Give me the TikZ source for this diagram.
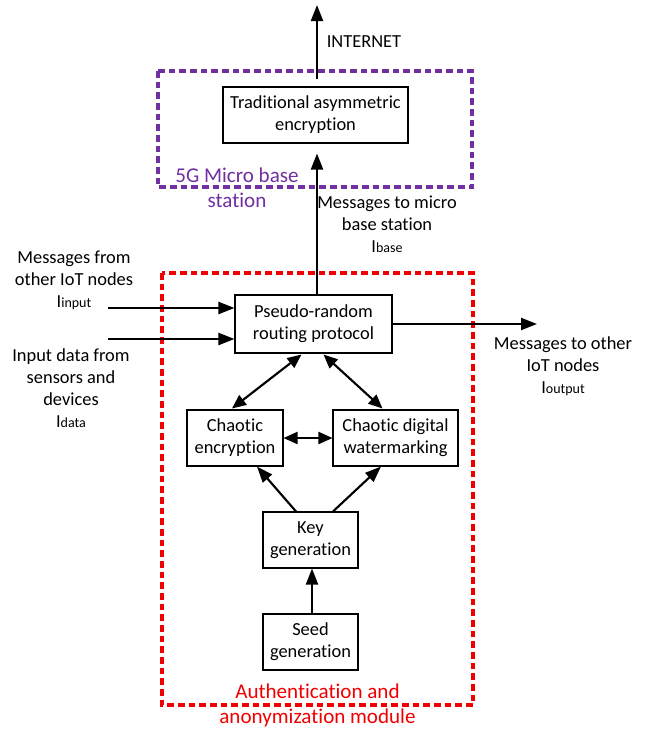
\documentclass[tikz,border=0pt]{standalone}
\usepackage{fontspec}
\setmainfont{Carlito}[Ligatures=NoCommon]
\usetikzlibrary{arrows.meta,calc}
\definecolor{mpurple}{RGB}{112,48,160}
\definecolor{mred}{RGB}{240,0,0}
\newcommand\subtx[1]{{\fontsize{10.5pt}{12pt}\selectfont #1}}
\begin{document}
\begin{tikzpicture}[x=0.75pt,y=-0.75pt,
  box/.style={draw, line width=0.8pt, align=center, font=\fontsize{13.8pt}{16.5pt}\selectfont, inner sep=0pt},
  lbl/.style={align=center, font=\fontsize{13.8pt}{16.5pt}\selectfont, inner sep=0pt},
  zlbl/.style={align=center, font=\fontsize{15.8pt}{18.75pt}\selectfont, inner sep=0pt},
  arr/.style={line width=1.6pt, -{Triangle[length=12pt,width=9pt]}},
  darr/.style={line width=1.6pt, {Triangle[length=10.5pt,width=9pt]}-{Triangle[length=10.5pt,width=9pt]}},
  zone/.style={line width=2.4pt, dash pattern=on 5pt off 3pt},
]
\useasboundingbox (0,0) rectangle (648,729);

% zones
\draw[zone, mpurple] (158,71) rectangle (472,187);
\draw[zone, mred] (162,273) rectangle (473,705);

% boxes
\node[box, minimum width=138.75pt, minimum height=42pt] (trad) at (315.5,115) {Traditional asymmetric\\encryption};
\node[box, minimum width=117.75pt, minimum height=43.5pt] (pseudo) at (313.5,324) {Pseudo-random\\routing protocol};
\node[box, minimum width=72pt, minimum height=42pt] (enc) at (235,438) {Chaotic\\encryption};
\node[box, minimum width=93.75pt, minimum height=42pt] (water) at (395.5,438) {Chaotic digital\\watermarking};
\node[box, minimum width=71.25pt, minimum height=42pt] (key) at (310.5,540) {Key\\generation};
\node[box, minimum width=71.25pt, minimum height=42pt] (seed) at (310.5,642) {Seed\\generation};

% labels
\node[lbl] (inet) at (364,42) {INTERNET};
\node[zlbl, text=mpurple] (bslbl) at (237,187.5) {5G Micro base\\station};
\node[zlbl, text=mred] (modlbl) at (317.5,705.5) {Authentication and\\anonymization module};
\node[lbl] (inlbl) at (74,280.5) {Messages from\\other IoT nodes\\I\subtx{input}};
\node[lbl] (datalbl) at (71,388) {Input data from\\sensors and\\devices\\I\subtx{data}};
\node[lbl] (baselbl) at (387,224) {Messages to micro\\base station\\I\subtx{base}};
\node[lbl] (outlbl) at (563,366.5) {Messages to other\\IoT nodes\\I\subtx{output}};

% coordinates
\coordinate (netstart) at ($(trad.north)+(1.5,-7)$);
\coordinate (nettop) at (317,5);
\coordinate (in1) at (108,308);
\coordinate (in2) at (108,339);
\coordinate (out) at (537,324);

% connectors
\draw[arr] (netstart) -- (nettop);
\draw[arr] ($(pseudo.north)+(3.5,0)$) -- ($(trad.south)+(1.5,10)$);
\draw[arr] (in1) -- (in1 -| pseudo.west);
\draw[arr] (in2) -- (in2 -| pseudo.west);
\draw[arr] (pseudo.east) -- (out);
\draw[darr] ($(pseudo.south)+(-12,1)$) -- ($(enc.north)+(-3,-1)$);
\draw[darr] ($(pseudo.south)+(10,1)$) -- ($(water.north)+(-13,-1)$);
\draw[darr] (enc.east) -- (water.west);
\draw[arr] ($(key.north)+(-14.5,0)$) -- ($(enc.south)+(22,0)$);
\draw[arr] ($(key.north)+(22.5,0)$) -- ($(water.south)+(-14.5,0)$);
\draw[arr] ($(seed.north)+(1.5,0)$) -- ($(key.south)+(1.5,0)$);
\end{tikzpicture}
\end{document}
